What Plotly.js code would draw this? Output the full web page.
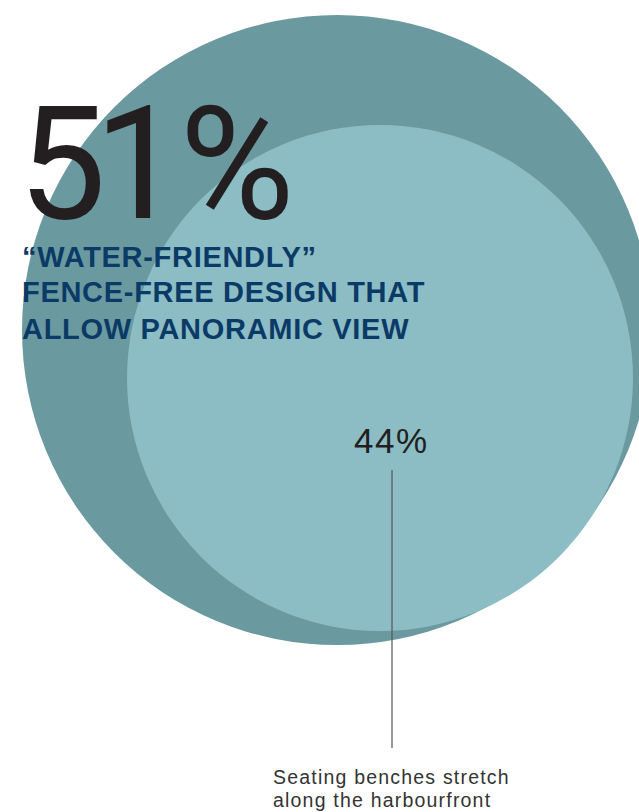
<!DOCTYPE html>
<html>
<head>
<meta charset="utf-8">
<script src="https://cdn.plot.ly/plotly-3.0.1.min.js"></script>
<style>html,body{margin:0;padding:0;background:#fff;}#chart{width:639px;height:812px;}</style>
</head>
<body>
<div id="chart"></div>
<script>
// Data
const percents = [51, 44];
const headlineLines = ["\u201CWATER-FRIENDLY\u201D", "FENCE-FREE DESIGN THAT", "ALLOW PANORAMIC VIEW"];
const captionLines = ["Seating benches stretch", "along the harbourfront"];
const circleColors = ["#6a9a9f", "#8cbdc5"];

const W = 639, H = 812;

function spaced(t, ls) {
  return '<span style="letter-spacing:' + ls + 'px">' + t + '</span>';
}
// tight display tracking for the big figure, per character
function bigFigure(v) {
  const chars = (v + "%").split("");
  const ls = [-12, -3, 0];
  return chars.map((c, i) => spaced(c, ls[i] !== undefined ? ls[i] : 0)).join("");
}

const shapes = [
  {type: "circle", xref: "x", yref: "y", x0: 22, x1: 652, y0: 15, y1: 645,
   fillcolor: circleColors[0], line: {width: 0}, layer: "below"},
  {type: "circle", xref: "x", yref: "y", x0: 127, x1: 633, y0: 125, y1: 631,
   fillcolor: circleColors[1], line: {width: 0}, layer: "below"},
  {type: "line", xref: "x", yref: "y", x0: 392, x1: 392, y0: 470, y1: 748,
   line: {color: "#555555", width: 1.2}}
];

const annotations = [];
annotations.push({
  x: 16, y: 164, xref: "x", yref: "y", xanchor: "left", yanchor: "middle",
  text: bigFigure(percents[0]), showarrow: false,
  font: {family: "Roboto, Liberation Sans, Arial, sans-serif", size: 157, color: "#231f20"}
});
const headY = [257, 292, 329];
headlineLines.forEach((t, i) => {
  annotations.push({
    x: 20, y: headY[i], xref: "x", yref: "y", xanchor: "left", yanchor: "middle",
    text: "<b>" + spaced(t, 0.7) + "</b>", showarrow: false,
    font: {family: "Liberation Sans, Arial, sans-serif", size: 29, color: "#0b3a66"}
  });
});
annotations.push({
  x: 391, y: 440, xref: "x", yref: "y", xanchor: "center", yanchor: "middle",
  text: spaced(percents[1] + "%", 1.5), showarrow: false,
  font: {family: "Liberation Sans, Arial, sans-serif", size: 35, color: "#231f20"}
});
const capY = [777, 800];
captionLines.forEach((t, i) => {
  annotations.push({
    x: 271, y: capY[i], xref: "x", yref: "y", xanchor: "left", yanchor: "middle",
    text: spaced(t, 1.2), showarrow: false,
    font: {family: "Liberation Sans, Arial, sans-serif", size: 19.5, color: "#333333"}
  });
});

const layout = {
  width: W, height: H,
  margin: {l: 0, r: 0, t: 0, b: 0},
  paper_bgcolor: "#ffffff", plot_bgcolor: "#ffffff",
  xaxis: {range: [0, W], visible: false, fixedrange: true},
  yaxis: {range: [H, 0], visible: false, fixedrange: true},
  showlegend: false,
  shapes: shapes,
  annotations: annotations
};

Plotly.newPlot("chart", [{x: [], y: [], type: "scatter", mode: "markers", hoverinfo: "skip"}], layout, {staticPlot: true, displayModeBar: false});
</script>
</body>
</html>
